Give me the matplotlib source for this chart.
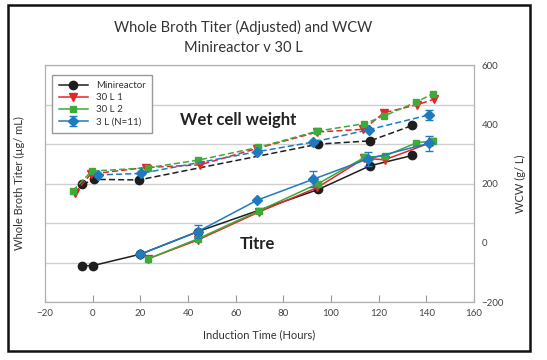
import matplotlib
matplotlib.use("Agg")
import matplotlib.pyplot as plt
from matplotlib.patches import Rectangle

plt.rcParams['font.family'] = ['Lato', 'DejaVu Sans']

# titre (left axis, unlabelled scale 0-600)
mini_t_x = [-4.3, 0, 20, 44, 94.7, 116.4, 134.1]
mini_t_y = [92, 92, 121, 178, 285, 345, 371]
r1_t_x = [23.1, 44.1, 69.8, 94.3, 114, 122.5, 142.5]
r1_t_y = [109, 157, 228, 290, 364, 360, 405]
r2_t_x = [23.1, 44.1, 69.8, 94.7, 114, 122.7, 135.8, 142.7]
r2_t_y = [109, 160, 231, 300, 366, 370, 403, 408]
l3_t_x = [20, 44, 69.1, 92.6, 115.4, 141.3]
l3_t_y = [121, 178, 258, 311, 362, 402]
l3_t_err = [0, 17, 0, 20, 18, 19]

# wet cell weight (right axis, g/L)
mini_w_x = [-4.3, 0.7, 19.4, 94.7, 116.4, 134.1]
mini_w_y = [197, 214, 212, 333, 344, 396]
r1_w_x = [-7.4, -0.8, 22.4, 45, 68.8, 94.3, 113.6, 122.3, 136.2, 143]
r1_w_y = [169, 232, 254, 263, 318, 374, 383, 439, 466, 484]
r2_w_x = [-8.4, -0.4, 23, 44.3, 69.5, 94.3, 114, 122.3, 135.8, 142.7]
r2_w_y = [175, 242, 253, 279, 322, 377, 402, 428, 475, 503]
l3_w_x = [2.1, 20.2, 68.8, 92.6, 116, 141.3]
l3_w_y = [229, 234, 307, 340, 382, 432]
l3_w_err = [0, 0, 0, 0, 0, 17]

black = '#1e1e1e'
red = '#e2262b'
green = '#3daa3a'
blue = '#1f7bc0'

fig = plt.figure(figsize=(5.47, 3.6), dpi=100)
ax = fig.add_axes([0.0823, 0.1611, 0.7843, 0.6583])
ax2 = ax.twinx()

ax.plot(mini_t_x, mini_t_y, color=black, lw=1.1, marker='o', ms=6, label='Minireactor')
ax.plot(r1_t_x, r1_t_y, color=red, lw=1.1, marker='v', ms=5.5, label='30 L 1')
ax.plot(r2_t_x, r2_t_y, color=green, lw=1.1, marker='s', ms=5, label='30 L 2')
ax.errorbar(l3_t_x, l3_t_y, yerr=l3_t_err, color=blue, lw=1.1, marker='D', ms=5,
            capsize=3, elinewidth=0.8, label='3 L (N=11)')

ax2.plot(mini_w_x, mini_w_y, color=black, lw=1.1, ls=(0, (4, 2)), marker='o', ms=6)
ax2.plot(r1_w_x, r1_w_y, color=red, lw=1.1, ls=(0, (4, 2)), marker='v', ms=5.5)
ax2.plot(r2_w_x, r2_w_y, color=green, lw=1.1, ls=(0, (4, 2)), marker='s', ms=5)
ax2.errorbar(l3_w_x, l3_w_y, yerr=l3_w_err, color=blue, lw=1.1, ls=(0, (4, 2)), marker='D', ms=5,
             capsize=3, elinewidth=0.8)

ax.set_xlim(-20, 160)
ax.set_ylim(0, 600)
ax.set_yticks(range(0, 601, 100))
ax.set_yticklabels([])
ax.tick_params(axis='y', length=0)
ax.grid(axis='y', color='#cfcfcf', lw=1)
ax.set_axisbelow(True)
ax.set_xticks(range(-20, 161, 20))
ax.tick_params(axis='x', direction='in', length=5, color='#999999', labelsize=7,
               labelcolor='#444444', pad=5)

ax2.set_ylim(-200, 600)
ax2.set_yticks(range(-200, 601, 200))
ax2.tick_params(axis='y', length=0, labelsize=7, labelcolor='#444444', pad=5.5)

for a in (ax, ax2):
    for s in a.spines.values():
        s.set_color('#b0b0b0')

ax.set_xlabel('Induction Time (Hours)', fontsize=8, color='#333333', labelpad=8)
ax.set_ylabel('Whole Broth Titer (µg/ mL)', fontsize=8, color='#333333', labelpad=11)
ax2.set_ylabel('WCW (g/ L)', fontsize=8, color='#333333', labelpad=8)

fig.text(0.445, 0.895, 'Whole Broth Titer (Adjusted) and WCW\nMinireactor v 30 L',
         ha='center', va='center', fontsize=10.5, color='#333333', linespacing=1.55)

ax.text(61, 462, 'Wet cell weight', fontsize=12, fontweight='bold', color='#222222',
        ha='center', va='center')
ax.text(69, 148, 'Titre', fontsize=12, fontweight='bold', color='#222222',
        ha='center', va='center')

leg = ax2.legend(*ax.get_legend_handles_labels(), loc='upper left',
                 bbox_to_anchor=(0.005, 0.98), fontsize=7, fancybox=False,
                 edgecolor='#999999', framealpha=1, handlelength=3, labelspacing=0.3,
                 borderpad=0.7, labelcolor='#333333')

fig.patches.append(Rectangle((0.0146, 0.025), 0.9544, 0.961, transform=fig.transFigure,
                             fill=False, edgecolor='#111111', lw=1.8))

fig.savefig('out.png', dpi=100)
